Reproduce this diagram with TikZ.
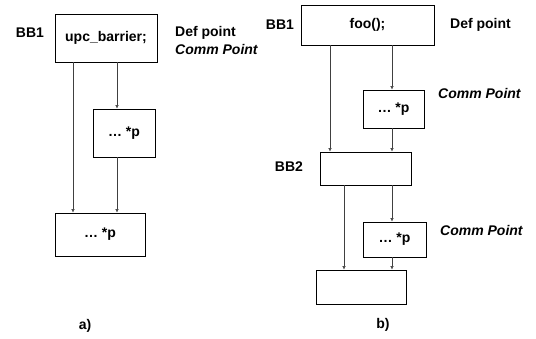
\documentclass[tikz,border=0pt]{standalone}
\usepackage{fontspec}
\setmainfont{Liberation Sans}
\usetikzlibrary{arrows.meta}

\begin{document}
\begin{tikzpicture}[x=1pt,y=-1pt,
    bbox/.style={draw, line width=0.9pt, inner sep=0pt},
    txt/.style={font=\fontsize{14}{16}\selectfont\bfseries, inner sep=0pt},
    itxt/.style={font=\fontsize{14}{16}\selectfont\bfseries\itshape, inner sep=0pt, anchor=west},
    flow/.style={draw=black!75, line width=0.5pt, -{Latex[length=3.5pt,width=3.5pt]}}]
              \useasboundingbox (0,0) rectangle (536,339);
              \node[bbox, minimum width=102pt, minimum height=48pt, txt] (barrier) at (106,38) {upc\_barrier;};
              \node[bbox, minimum width=62pt, minimum height=48pt, txt] (usea) at (124,133) {\dots\ *p};
              \node[bbox, minimum width=90pt, minimum height=43pt, txt] (joina) at (100,234.5) {\dots\ *p};
              \node[txt] (bbonea) at (30,33) {BB1};
              \node[txt, anchor=west] (defa) at (175,33) {Def point};
              \node[itxt] (comma) at (175,49) {Comm Point};
              \node[txt] (capa) at (85,326) {a)};
              \draw[flow] (barrier.south -| 73,0) -- (joina.north -| 73,0);
              \draw[flow] (barrier.south -| 117,0) -- (usea.north -| 117,0);
              \draw[flow] (usea.south -| 117,0) -- (joina.north -| 117,0);
              \node[bbox, minimum width=133pt, minimum height=40pt, txt] (foo) at (367.5,25) {foo();};
              \node[bbox, minimum width=61pt, minimum height=38pt, txt] (useb) at (393.5,109) {\dots\ *p};
              \node[bbox, minimum width=91pt, minimum height=33pt, txt] (bbtwo) at (365.5,168.5) {};
              \node[bbox, minimum width=63pt, minimum height=35pt, txt] (usec) at (394.5,239.5) {\dots\ *p};
              \node[bbox, minimum width=90pt, minimum height=34pt, txt] (joinb) at (361,287) {};
              \node[txt] (bboneb) at (280,25) {BB1};
              \node[txt] (bbtwob) at (289,167) {BB2};
              \node[txt, anchor=west] (defb) at (450,25) {Def point};
              \node[itxt] (commb) at (438,93) {Comm Point};
              \node[itxt] (commc) at (440,230) {Comm Point};
              \node[txt] (capb) at (383,325) {b)};
              \draw[flow] (foo.south -| 330,0) -- (bbtwo.north -| 330,0);
              \draw[flow] (foo.south -| 392,0) -- (useb.north -| 392,0);
              \draw[flow] (useb.south -| 392,0) -- (bbtwo.north -| 392,0);
              \draw[flow] (bbtwo.south -| 344,0) -- (joinb.north -| 344,0);
              \draw[flow] (bbtwo.south -| 392,0) -- (usec.north -| 392,0);
              \draw[flow] (usec.south -| 392,0) -- (joinb.north -| 392,0);
            \end{tikzpicture}
\end{document}
